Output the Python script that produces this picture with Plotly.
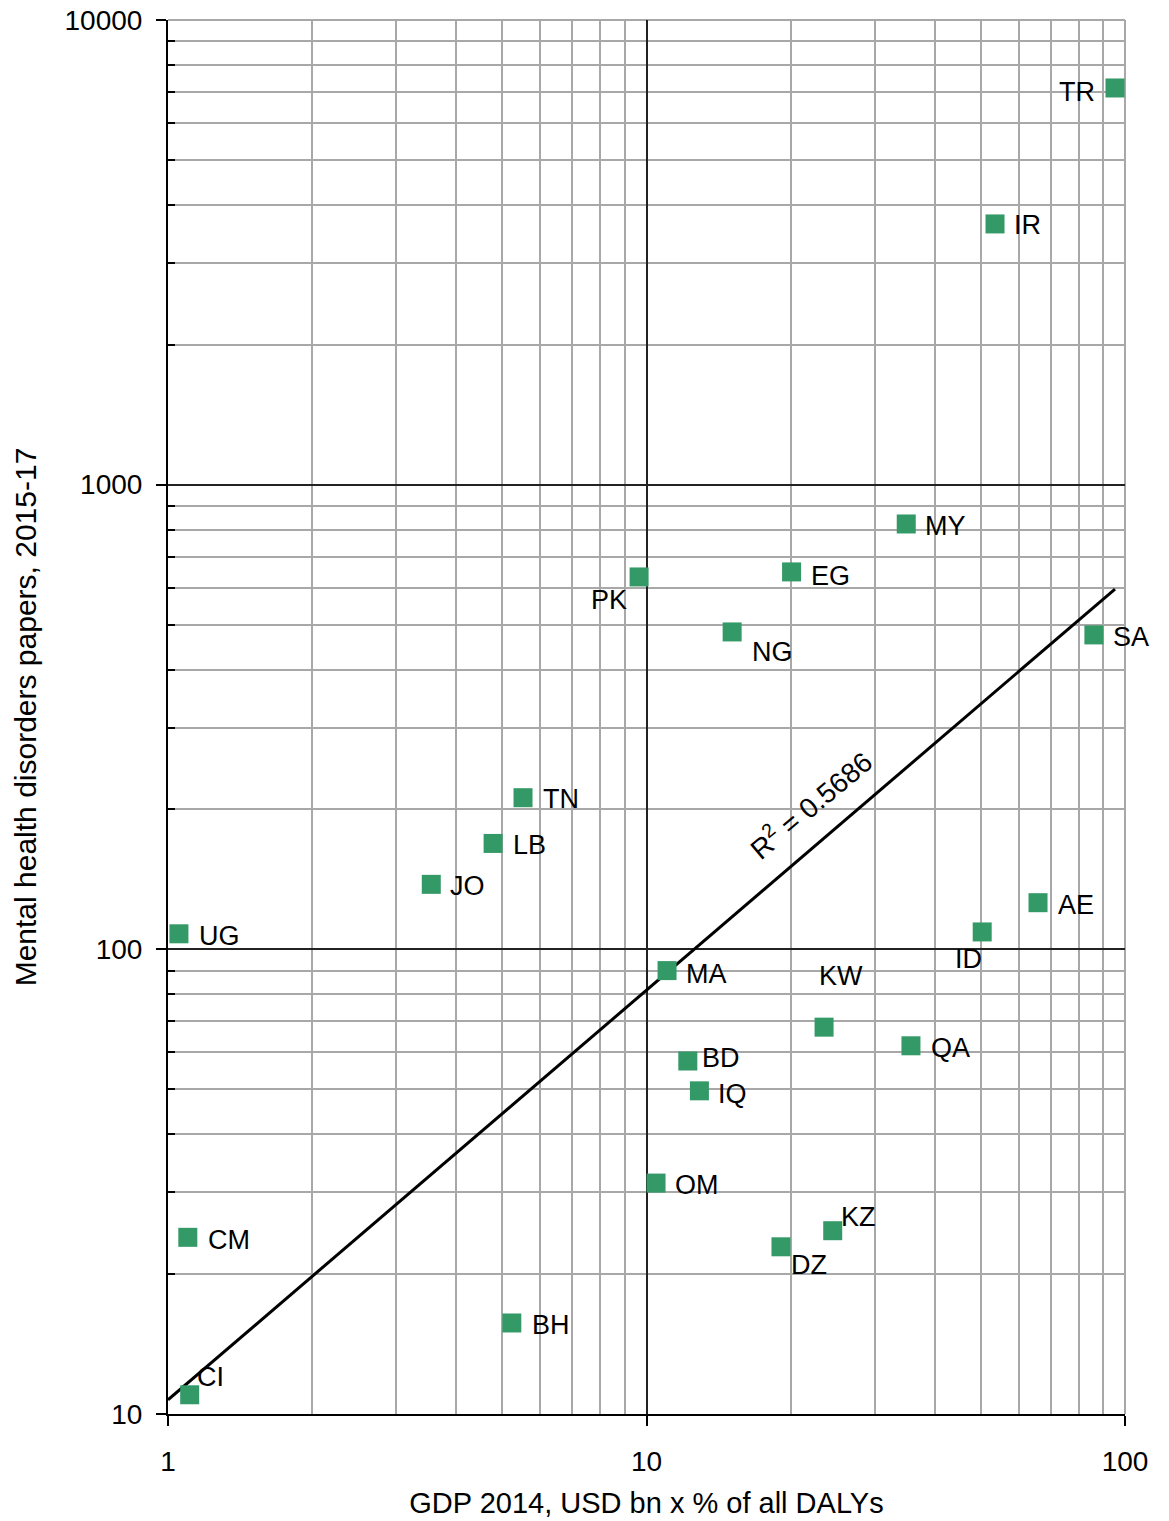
import numpy as np
import plotly.graph_objects as go

# ---- data ----
codes = ["TR", "IR", "MY", "EG", "PK", "NG", "SA", "TN", "LB", "JO", "UG", "AE",
         "ID", "MA", "KW", "QA", "BD", "IQ", "OM", "KZ", "DZ", "CM", "BH", "CI"]
gdp_daly = [95.3, 53.5, 34.9, 20.1, 9.65, 15.1, 86.1, 5.52, 4.78, 3.55, 1.054, 65.8,
            50.3, 11.04, 23.5, 35.7, 12.2, 12.9, 10.47, 24.5, 19.1, 1.10, 5.23, 1.11]
papers = [7140, 3640, 823, 649, 633, 482, 475, 212, 169, 138, 108, 126,
          109, 90, 68, 62, 57.5, 49.6, 31.4, 24.8, 22.9, 24.0, 15.7, 11.0]

# power trendline as drawn in the reference (end points)
trend_x = [1.0, 95.3]
trend_y = [10.73, 596]
r2_text = "R<sup>2</sup> = 0.5686"

x_ticks = [1, 10, 100]
y_ticks = [10, 100, 1000, 10000]

# ---- label placement (style) ----
label_pos = {
    "TR": ("right", -18, -4), "IR": ("left", 17, -1), "MY": ("left", 17, -2),
    "EG": ("left", 17, -4), "PK": ("right", -10, -23), "NG": ("left", 18, -20),
    "SA": ("left", 17, -2), "TN": ("left", 18, -1), "LB": ("left", 18, -2),
    "JO": ("left", 17, -2), "UG": ("left", 18, -2), "AE": ("left", 18, -2),
    "ID": ("right", 2, -27), "MA": ("left", 17, -3), "KW": ("center", 17, 51),
    "QA": ("left", 18, -2), "BD": ("left", 12, 3), "IQ": ("left", 17, -3),
    "OM": ("left", 17, -2), "KZ": ("left", 6, 14), "DZ": ("left", 8, -18),
    "CM": ("left", 18, -3), "BH": ("left", 18, -2), "CI": ("left", 5, 18),
}

FONT = "Liberation Sans, Arial, Helvetica, sans-serif"
GREEN = "#339966"

fig = go.Figure()

fig.add_trace(go.Scatter(
    x=trend_x, y=trend_y, mode="lines",
    line=dict(color="black", width=3), hoverinfo="skip", showlegend=False,
))

fig.add_trace(go.Scatter(
    x=gdp_daly, y=papers, mode="markers",
    marker=dict(symbol="square", size=19, color=GREEN, line=dict(width=0)),
    text=codes, showlegend=False,
))

annotations = []
for c, xv, yv in zip(codes, gdp_daly, papers):
    anchor, dx, dy = label_pos[c]
    annotations.append(dict(
        x=np.log10(xv), y=np.log10(yv), xref="x", yref="y", text=c,
        showarrow=False, xanchor=anchor, yanchor="middle",
        xshift=dx, yshift=dy, font=dict(family=FONT, size=27, color="black"),
    ))

annotations.append(dict(
    x=np.log10(22.0), y=np.log10(205), xref="x", yref="y", text=r2_text,
    showarrow=False, textangle=-40, font=dict(family=FONT, size=28, color="black"),
))

minor_x = [m * d for d in (1, 10) for m in range(2, 10)]
minor_y = [m * d for d in (10, 100, 1000) for m in range(2, 10)]

border = dict(color="#a8a8a8", width=2)
fig.update_layout(
    width=1169, height=1521,
    margin=dict(l=168, r=44, t=20, b=107, autoexpand=False),
    paper_bgcolor="white", plot_bgcolor="white",
    font=dict(family=FONT, size=28, color="black"),
    annotations=annotations,
    shapes=[
        dict(type="line", xref="paper", yref="paper", x0=0, x1=1, y0=1, y1=1,
             line=border, layer="between"),
        dict(type="line", xref="paper", yref="paper", x0=1, x1=1, y0=0, y1=1,
             line=border, layer="between"),
    ],
)

fig.update_xaxes(
    type="log", range=[0, 2], tickmode="array", tickvals=x_ticks,
    ticktext=[str(v) for v in x_ticks],
    showline=True, linecolor="black", linewidth=2,
    ticks="outside", ticklen=10, tickwidth=2, tickcolor="black",
    ticklabelstandoff=11,
    showgrid=True, gridcolor="#222222", gridwidth=1.5,
    minor=dict(tickmode="array", tickvals=minor_x, showgrid=True,
               gridcolor="#a8a8a8", gridwidth=1.5, ticks=""),
    tickfont=dict(size=28),
    title=dict(text="GDP 2014, USD bn x % of all DALYs", font=dict(size=29), standoff=17),
    zeroline=False,
)
fig.update_yaxes(
    type="log", range=[1, 4], tickmode="array", tickvals=y_ticks,
    ticktext=[str(v) for v in y_ticks],
    showline=True, linecolor="black", linewidth=2,
    ticks="outside", ticklen=10, tickwidth=2, tickcolor="black",
    ticklabelstandoff=8,
    showgrid=True, gridcolor="#222222", gridwidth=1.5,
    minor=dict(tickmode="array", tickvals=minor_y, showgrid=True,
               gridcolor="#a8a8a8", gridwidth=1.5, ticks="inside", ticklen=7,
               tickcolor="black", tickwidth=2),
    tickfont=dict(size=28),
    title=dict(text="Mental health disorders papers, 2015-17", font=dict(size=30), standoff=19),
    zeroline=False,
)

fig.write_html("out.html", config={"displayModeBar": False},
               post_script="document.body.style.margin='0';")
